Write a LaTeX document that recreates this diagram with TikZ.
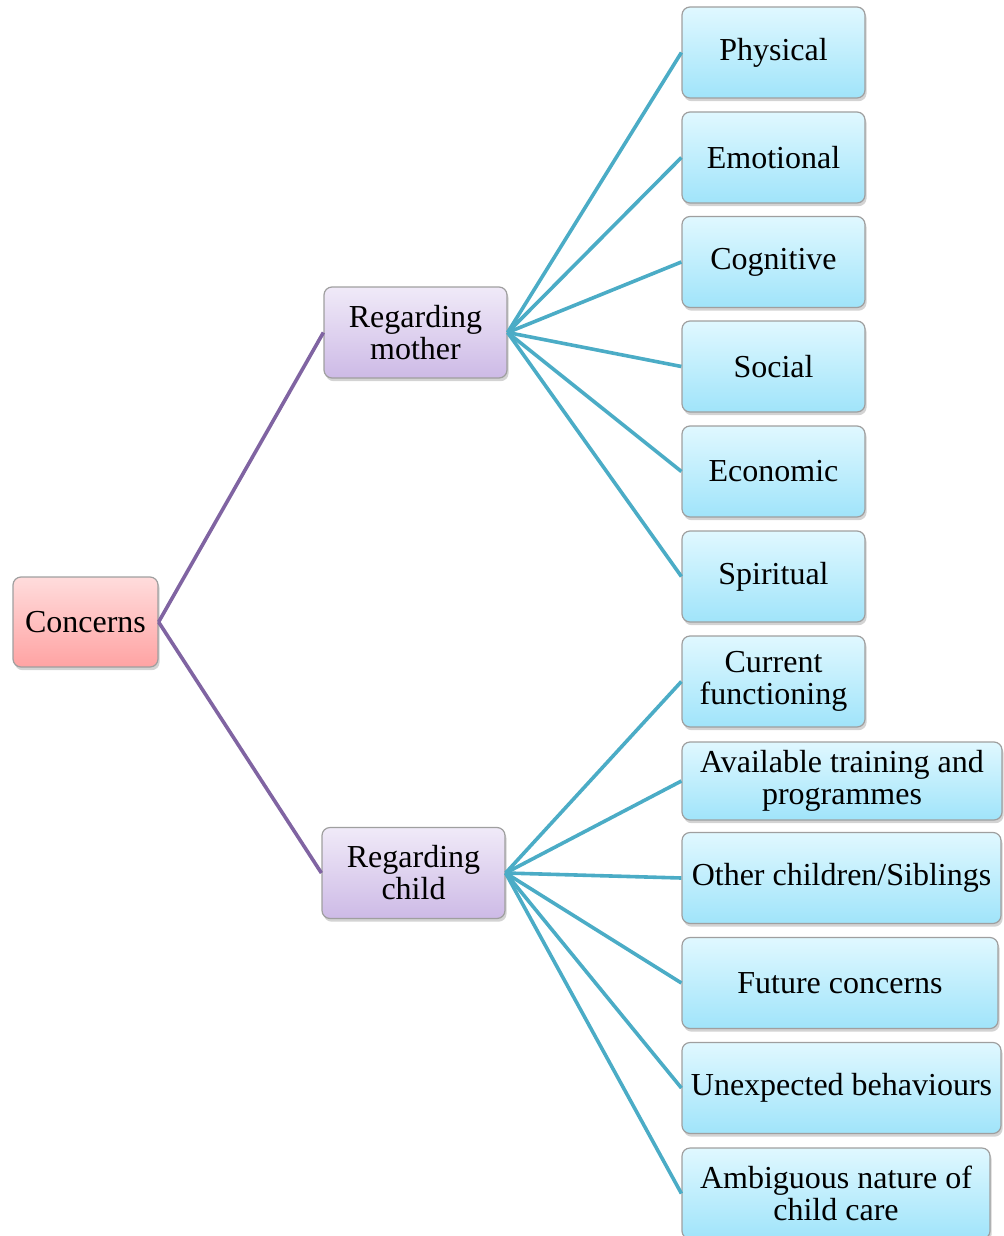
\documentclass[tikz,border=0pt]{standalone}
\usepackage{fontspec}
\setmainfont{Liberation Serif}
\usetikzlibrary{shadows}
\definecolor{redtop}{RGB}{255,220,220}
\definecolor{redbot}{RGB}{255,163,163}
\definecolor{purtop}{RGB}{240,234,248}
\definecolor{purbot}{RGB}{205,186,230}
\definecolor{blutop}{RGB}{224,248,255}
\definecolor{blubot}{RGB}{160,228,250}
\definecolor{purline}{RGB}{128,100,162}
\definecolor{bluline}{RGB}{75,172,198}
\tikzset{
  box/.style={draw=gray!75, line width=0.6pt, rounded corners=4pt, align=center,
    inner sep=0pt, font=\fontsize{16}{16}\selectfont,
    drop shadow={shadow xshift=0.8pt, shadow yshift=-1.6pt, opacity=0.35}},
  rootbox/.style={box, top color=redtop, bottom color=redbot,
    minimum width=72.5pt, minimum height=45pt},
  midbox/.style={box, top color=purtop, bottom color=purbot,
    minimum width=91.5pt, minimum height=45.5pt},
  leafbox/.style={box, top color=blutop, bottom color=blubot,
    minimum width=91.5pt, minimum height=45.5pt},
  pline/.style={purline, line width=1.8pt},
  bline/.style={bluline, line width=1.8pt}
}
\begin{document}
\begin{tikzpicture}[x=0.5pt,y=-0.5pt]
      \useasboundingbox (0,0) rectangle (1003,1236);
      % left and middle
      \node[rootbox] (concerns) at (85.5,622) {Concerns};
      \node[midbox] (mother) at (415.5,332.5) {Regarding\\mother};
      \node[midbox] (child) at (413.5,873) {Regarding\\child};
      % regarding mother
      \node[leafbox] (phys) at (773.5,52.5) {Physical};
      \node[leafbox] (emo) at (773.5,157.5) {Emotional};
      \node[leafbox] (cog) at (773.5,262) {Cognitive};
      \node[leafbox] (soc) at (773.5,366.5) {Social};
      \node[leafbox] (eco) at (773.5,471.5) {Economic};
      \node[leafbox] (spir) at (773.5,576.5) {Spiritual};
      % regarding child
      \node[leafbox] (curr) at (773.5,681.5) {Current\\functioning};
      \node[leafbox, minimum width=160pt, minimum height=39pt] (avail) at (842,781) {Available training and\\programmes};
      \node[leafbox, minimum width=159.5pt] (other) at (841.5,878) {Other children/Siblings};
      \node[leafbox, minimum width=158pt] (future) at (840,983) {Future concerns};
      \node[leafbox, minimum width=159.5pt] (unexp) at (841.5,1088) {Unexpected behaviours};
      \node[leafbox, minimum width=154pt] (ambig) at (836,1193.5) {Ambiguous nature of\\child care};
      % connectors
      \draw[pline] (concerns.east) -- (mother.west);
      \draw[pline] (concerns.east) -- (child.west);
      \draw[bline] (mother.east) -- (phys.west);
      \draw[bline] (mother.east) -- (emo.west);
      \draw[bline] (mother.east) -- (cog.west);
      \draw[bline] (mother.east) -- (soc.west);
      \draw[bline] (mother.east) -- (eco.west);
      \draw[bline] (mother.east) -- (spir.west);
      \draw[bline] (child.east) -- (curr.west);
      \draw[bline] (child.east) -- (avail.west);
      \draw[bline] (child.east) -- (other.west);
      \draw[bline] (child.east) -- (future.west);
      \draw[bline] (child.east) -- (unexp.west);
      \draw[bline] (child.east) -- (ambig.west);

\end{tikzpicture}
\end{document}
